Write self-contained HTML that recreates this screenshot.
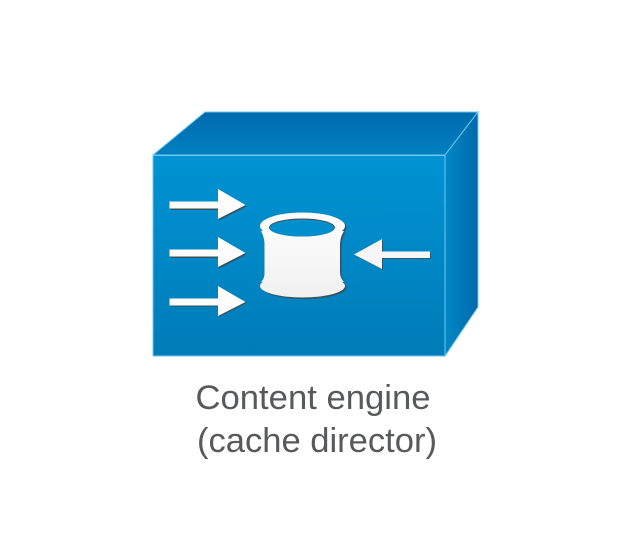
<!DOCTYPE html>
<html><head><meta charset="utf-8"><style>html,body{margin:0;padding:0;background:#fff;width:640px;height:533px;overflow:hidden}svg{display:block}</style></head>
<body>
<svg width="640" height="533" viewBox="0 0 640 533" xmlns="http://www.w3.org/2000/svg">
<defs>
<linearGradient id="f" x1="0" y1="0" x2="0" y2="1"><stop offset="0" stop-color="#0093d3"/><stop offset="1" stop-color="#007cb8"/></linearGradient>
<linearGradient id="t" x1="0" y1="0" x2="0" y2="1"><stop offset="0" stop-color="#006aae"/><stop offset="1" stop-color="#0080bf"/></linearGradient>
<linearGradient id="r" x1="0" y1="0" x2="1" y2="0"><stop offset="0" stop-color="#0088c6"/><stop offset="1" stop-color="#0069ab"/></linearGradient>
<linearGradient id="w1" gradientUnits="userSpaceOnUse" x1="0" y1="189" x2="0" y2="317"><stop offset="0" stop-color="#ffffff"/><stop offset="1" stop-color="#eeeeee"/></linearGradient>
<linearGradient id="w2" gradientUnits="userSpaceOnUse" x1="0" y1="212" x2="0" y2="297"><stop offset="0" stop-color="#ffffff"/><stop offset="1" stop-color="#f0f0f0"/></linearGradient>
<path id="a" d="M169.500 201.500H218V189L245.500 205L218 219V208.500H169.500Z"/>
<g id="c">
<ellipse cx="302.500" cy="226" rx="42.500" ry="13.500"/>
<ellipse cx="302.500" cy="286" rx="42.500" ry="11.500"/>
<rect x="264.500" y="226" width="75.500" height="60"/>
<path d="M261 231Q265 238 264.500 247H340Q339.500 238 344 231Z"/>
<path d="M264.500 272Q265 278 261 282H344Q340 278 340 272Z"/>
</g>
<path id="l" d="M430 251.500H382V239L354 254.500L382 269V258H430Z"/>
</defs>
<polygon points="153,155 205,112 478,112 445,155" fill="url(#t)" stroke="#6cc8ee" stroke-width="1"/>
<polygon points="445,155 478,112 478,307 445,356" fill="url(#r)" stroke="#6cc8ee" stroke-width="1"/>
<rect x="153" y="155.500" width="292" height="200.500" fill="url(#f)" stroke="#6cc8ee" stroke-width="1"/>
<g fill="#454545" opacity=".8">
<use href="#a" x="1" y="1.500"/><use href="#a" x="1" y="49.500"/><use href="#a" x="1" y="98"/>
<use href="#c" x="1.500" y="1.500"/>
</g>
<g fill="url(#w1)">
<use href="#a"/><use href="#a" y="48"/><use href="#a" y="97"/>
</g>
<use href="#l" fill="#454545" opacity=".7" x="1" y="1"/>
<use href="#l" fill="#f6f6f6"/>
<use href="#c" fill="url(#w2)"/>
<ellipse cx="302" cy="227.500" rx="33" ry="9" fill="#4a4a4a"/>
<ellipse cx="302" cy="228" rx="32.500" ry="8.500" fill="#008ecd"/>
<g font-family="'Liberation Sans',sans-serif" font-size="34" fill="#58595b" text-anchor="middle">
<text x="313" y="409" textLength="235" lengthAdjust="spacingAndGlyphs">Content engine</text>
<text x="317" y="452" textLength="240" lengthAdjust="spacingAndGlyphs">(cache director)</text>
</g>
</svg>
</body></html>
